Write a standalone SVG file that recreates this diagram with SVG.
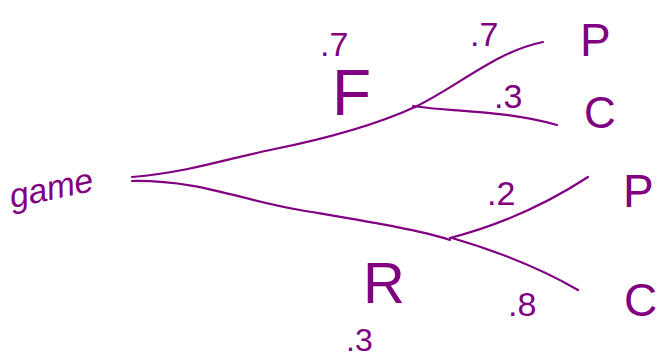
<svg xmlns="http://www.w3.org/2000/svg" width="663" height="360" viewBox="0 0 663 360">
<style>
.ln{fill:none;stroke:#800080;stroke-width:2.2;stroke-linecap:round}
.t{fill:#800080;font-family:"Liberation Sans",Arial,sans-serif}
</style>
<rect width="663" height="360" fill="#fff"/>
<g id="connectors">
<path class="ln" d="M132,177 C190,172 230,158 270,150 C330,138 380,123 415,107"/>
<path class="ln" d="M415,107 C460,85 495,52 543,42"/>
<path class="ln" d="M413,106 C450,112 505,110 557,125"/>
<path class="ln" d="M132,181 C200,180 240,200 300,210 C370,222 420,230 450,240"/>
<path class="ln" d="M450,238 C500,225 545,205 588,177"/>
<path class="ln" d="M452,238 C500,252 540,268 578,290"/>
</g>
<g id="game"><text class="t" x="10" y="200" font-size="34" font-style="italic" transform="rotate(-12 50 195)">game</text></g>
<g id="F">
<text class="t" x="320" y="56" font-size="34">.7</text>
<text class="t" x="332" y="115" font-size="64">F</text>
</g>
<g id="FP">
<text class="t" x="470" y="46" font-size="34">.7</text>
<text class="t" x="580" y="56" font-size="46">P</text>
</g>
<g id="FC">
<text class="t" x="494" y="108" font-size="34">.3</text>
<text class="t" x="584" y="128" font-size="44">C</text>
</g>
<g id="R">
<text class="t" x="363" y="303" font-size="58">R</text>
<text class="t" x="346" y="351" font-size="32">.3</text>
</g>
<g id="RP">
<text class="t" x="487" y="205" font-size="34">.2</text>
<text class="t" x="623" y="207" font-size="46">P</text>
</g>
<g id="RC">
<text class="t" x="508" y="316" font-size="34">.8</text>
<text class="t" x="624" y="316" font-size="46">C</text>
</g>
</svg>
